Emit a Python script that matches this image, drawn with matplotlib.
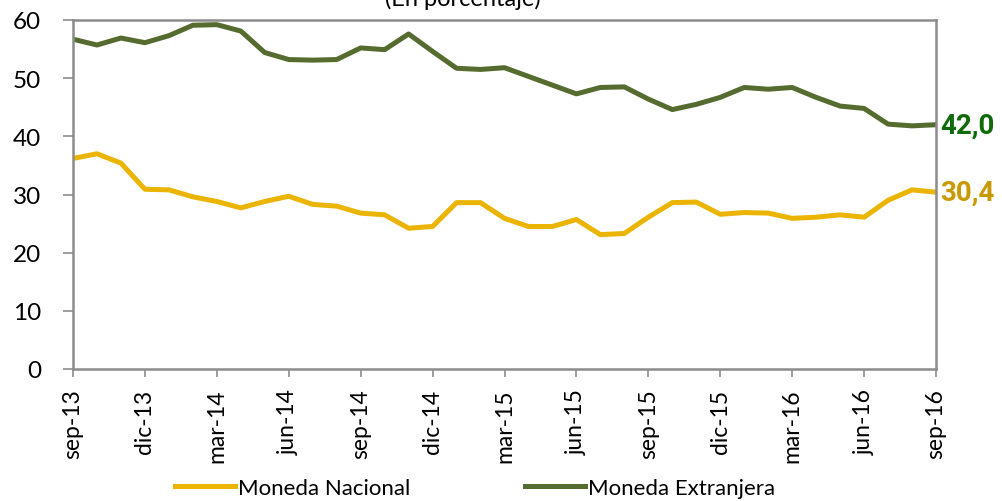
import matplotlib
matplotlib.use("Agg")
import matplotlib.pyplot as plt
import numpy as np

# monthly data, sep-13 .. sep-16
months = ["sep-13", "oct-13", "nov-13", "dic-13", "ene-14", "feb-14", "mar-14", "abr-14",
          "may-14", "jun-14", "jul-14", "ago-14", "sep-14", "oct-14", "nov-14", "dic-14",
          "ene-15", "feb-15", "mar-15", "abr-15", "may-15", "jun-15", "jul-15", "ago-15",
          "sep-15", "oct-15", "nov-15", "dic-15", "ene-16", "feb-16", "mar-16", "abr-16",
          "may-16", "jun-16", "jul-16", "ago-16", "sep-16"]
moneda_nacional = [36.2, 37.0, 35.4, 30.9, 30.8, 29.6, 28.8, 27.7, 28.8, 29.7, 28.3, 28.0, 26.8,
                   26.5, 24.2, 24.5, 28.6, 28.6, 25.9, 24.5, 24.5, 25.7, 23.1, 23.3, 26.1, 28.6,
                   28.7, 26.6, 26.9, 26.8, 25.9, 26.1, 26.5, 26.1, 29.0, 30.8, 30.4]
moneda_extranjera = [56.7, 55.7, 56.9, 56.1, 57.3, 59.1, 59.2, 58.1, 54.4, 53.2, 53.1, 53.2, 55.2,
                     54.9, 57.6, 54.6, 51.7, 51.5, 51.8, 50.3, 48.8, 47.3, 48.4, 48.5, 46.4, 44.6,
                     45.5, 46.7, 48.4, 48.1, 48.4, 46.7, 45.2, 44.8, 42.1, 41.8, 42.0]
series_labels = ["Moneda Nacional", "Moneda Extranjera"]
last_labels = ["30,4", "42,0"]

col_nac = "#EAB400"
col_ext = "#556B2F"
frame_col = "#8C8C8C"

plt.rcParams['font.family'] = ['Lato', 'DejaVu Sans']

fig = plt.figure(figsize=(10.02, 5.02), dpi=100)
ax = fig.add_axes([73/1002, 1-370/502, (936-73)/1002, (370-21)/502])

x = np.arange(len(months))
ax.plot(x, moneda_nacional, color=col_nac, lw=3.6, label=series_labels[0])
ax.plot(x, moneda_extranjera, color=col_ext, lw=3.6, label=series_labels[1])

ax.set_xlim(0, len(months)-1)
ax.set_ylim(0, 60)
ax.set_yticks(range(0, 61, 10))
ax.set_xticks(x[::3])
ax.set_xticklabels(months[::3], rotation=90, fontsize=16.5)
ax.tick_params(axis='y', labelsize=17.5, direction='out', length=7, width=1.2, color=frame_col, pad=16)
ax.tick_params(axis='x', direction='out', length=6, width=1.2, color=frame_col, pad=8)
for s in ax.spines.values():
    s.set_color(frame_col)
    s.set_linewidth(1.8)

ax.annotate(last_labels[1], xy=(x[-1], moneda_extranjera[-1]), xytext=(3, 0),
            textcoords='offset points', va='center', ha='left', fontsize=20,
            fontweight='bold', color="#0F6A0A", family='Roboto', annotation_clip=False)
ax.annotate(last_labels[0], xy=(x[-1], moneda_nacional[-1]), xytext=(3, 0),
            textcoords='offset points', va='center', ha='left', fontsize=20,
            fontweight='bold', color="#C99A00", family='Roboto', annotation_clip=False)

fig.text(463/1002, 1-6/502, "(En porcentaje)", ha='center', va='baseline', fontsize=17)

leg = fig.legend(loc='center', bbox_to_anchor=(475/1002, 1-489/502), ncol=2, frameon=False,
                 handlelength=2.7, columnspacing=5.2, handletextpad=0.1,
                 prop={'size': 16})

fig.savefig("out.png", dpi=100)
